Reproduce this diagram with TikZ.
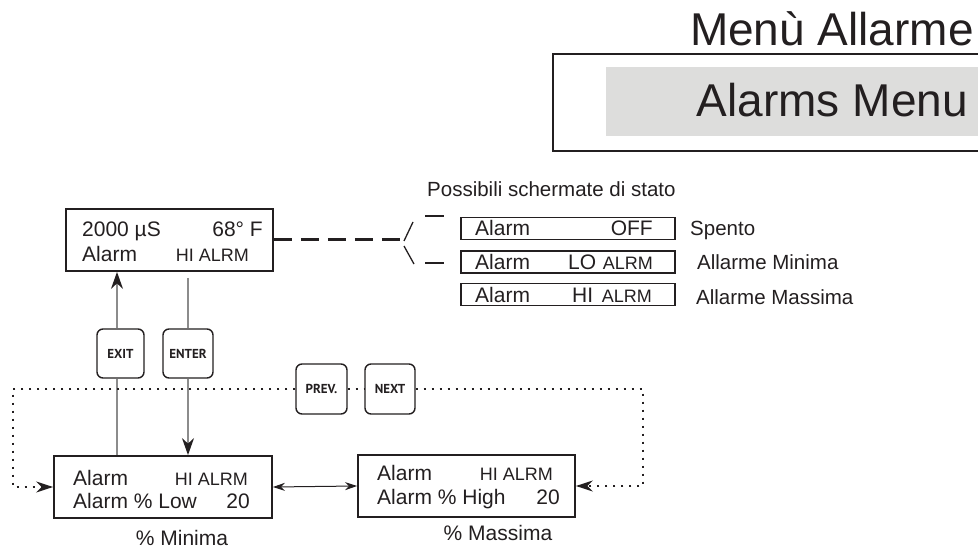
\documentclass[tikz,border=0pt]{standalone}
\usepackage{fontspec}
\setmainfont{Liberation Sans}
\newfontfamily\keyfont{PT Sans}
\usetikzlibrary{arrows.meta,calc}
\definecolor{ink}{HTML}{231F20}
\definecolor{panel}{HTML}{DDDDDC}
\definecolor{wire}{HTML}{8C8C8C}
\tikzset{
  lcd/.style={draw=ink, line width=1.8pt, inner sep=0pt, minimum height=62pt},
  statbox/.style={draw=ink, line width=1.4pt, inner sep=0pt, minimum width=214pt, minimum height=22pt},
  keybox/.style={draw=ink, line width=1.4pt, rounded corners=6pt, fill=white, inner sep=0pt,
                 minimum height=49pt, text=ink, font=\keyfont\bfseries\fontsize{13}{14}\selectfont},
  big/.style={inner sep=0pt, text=ink, font=\fontsize{21}{24}\selectfont},
  sm/.style={inner sep=0pt, text=ink, font=\fontsize{18}{20}\selectfont},
  lbl/.style={inner sep=0pt, text=ink, font=\fontsize{20.5}{24}\selectfont},
  head/.style={inner sep=0pt, text=ink, font=\fontsize{46}{50}\selectfont},
  conn/.style={draw=wire, line width=1.5pt},
  tipbig/.style={-{Stealth[length=17pt,width=12pt,color=ink]}},
  dottip/.style={-{Stealth[length=17pt,width=11pt,color=ink]}},
  dotline/.style={draw=ink, line width=2pt, dash pattern=on 2pt off 6pt},
  dashline/.style={draw=ink, line width=3pt, dash pattern=on 18pt off 9pt},
}
\begin{document}
\begin{tikzpicture}[x=1pt,y=-1pt]
\useasboundingbox (0,0) rectangle (978,548);

% title block
\node[head, anchor=base east] (title) at (974,46) {Menù Allarme};
\fill[panel] (606,67) rectangle (978,136);
\draw[ink, line width=1.5pt] (978,54) -- (553,54) -- (553,151) -- (978,151);
\node[head, anchor=base east] (subtitle) at (968,117) {Alarms Menu};

% main display
\node[lcd, minimum width=207pt] (top) at (169.5,240) {};
\node[big, anchor=base west] (t1) at (82,237) {2000 µS};
\node[big, anchor=base east] (t2) at (263,237) {68° F};
\node[big, anchor=base west] (t3) at (82,262) {Alarm};
\node[sm, anchor=base east] (t4) at (249,262) {HI ALRM};

% possible status screens
\node[lbl, anchor=base west] (poss) at (427,197) {Possibili schermate di stato};
\node[statbox] (s1) at (568,228.5) {};
\node[statbox] (s2) at (568,262) {};
\node[statbox] (s3) at (568,294.5) {};
\node[big, anchor=base west] (s1a) at (475,236) {Alarm};
\node[big, anchor=base east] (s1b) at (653,236) {OFF};
\node[big, anchor=base west] (s2a) at (475,269.5) {Alarm};
\node[big, anchor=base west] (s2b) at (568,269.5) {LO};
\node[sm, anchor=base east] (s2c) at (653,269.5) {ALRM};
\node[big, anchor=base west] (s3a) at (475,302) {Alarm};
\node[big, anchor=base west] (s3b) at (572,302) {HI};
\node[sm, anchor=base east] (s3c) at (652,302) {ALRM};
\node[lbl, anchor=base west] (l1) at (690,236) {Spento};
\node[lbl, anchor=base west] (l2) at (697,270) {Allarme Minima};
\node[lbl, anchor=base west] (l3) at (696,305) {Allarme Massima};

% dashed lead to the status list
\coordinate (fork) at (403,240);
\draw[dashline] (top.east) -- (fork);
\draw[ink, line width=1.3pt] (404,241) -- (413,222);
\draw[ink, line width=1.3pt] (404,246) -- (414,264);
\draw[ink, line width=1.6pt] (425,216) -- (444,216);
\draw[ink, line width=1.6pt] (425,263) -- (444,263);

% lower displays
\node[lcd, minimum width=218pt] (low) at (163,487) {};
\node[big, anchor=base west] (b1) at (73,485) {Alarm};
\node[sm, anchor=base east] (b2) at (248,485) {HI ALRM};
\node[big, anchor=base west] (b3) at (73,508) {Alarm \% Low};
\node[big, anchor=base east] (b4) at (250,508) {20};
\node[big, anchor=base] (cap1) at (182,545) {\% Minima};

\node[lcd, minimum width=217pt] (high) at (466.5,486) {};
\node[big, anchor=base west] (c1) at (377,480) {Alarm};
\node[sm, anchor=base east] (c2) at (553,480) {HI ALRM};
\node[big, anchor=base west] (c3) at (377,504) {Alarm \% High};
\node[big, anchor=base east] (c4) at (560,504) {20};
\node[big, anchor=base] (cap2) at (498,540) {\% Massima};

% keys
\node[keybox, minimum width=47pt] (exit) at (120.5,353.5) {EXIT};
\node[keybox, minimum width=50pt] (enter) at (188,353.5) {ENTER};
\node[keybox, minimum width=51pt, minimum height=50pt] (prev) at (321.5,389) {PREV.};
\node[keybox, minimum width=50pt, minimum height=50pt] (next) at (390,389) {NEXT};

% EXIT / ENTER paths
\coordinate (exitx) at (117,0);
\draw[conn] (exitx |- low.north) -- (exitx |- exit.south);
\draw[conn, tipbig] (exitx |- exit.north) -- (exitx |- top.south);
\draw[conn] ($(enter.north |- top.south)+(0,6)$) -- (enter.north);
\draw[conn, tipbig] (enter.south) -- (enter.south |- low.north);

% PREV / NEXT loops
\coordinate (dl) at (13,0);
\coordinate (dr) at (643,0);
\draw[dotline, dottip] (prev.west) -- (dl |- prev.west) |- (low.west);
\draw[dotline] (prev.east) -- (next.west);
\draw[dotline, dottip] (next.east) -- (dr |- next.east) |- (high.east);

% between the two lower displays
\draw[ink, line width=1pt, {Stealth[length=12pt,width=8pt]}-{Stealth[length=12pt,width=8pt]}] (low.east) -- (high.west);
\end{tikzpicture}
\end{document}
